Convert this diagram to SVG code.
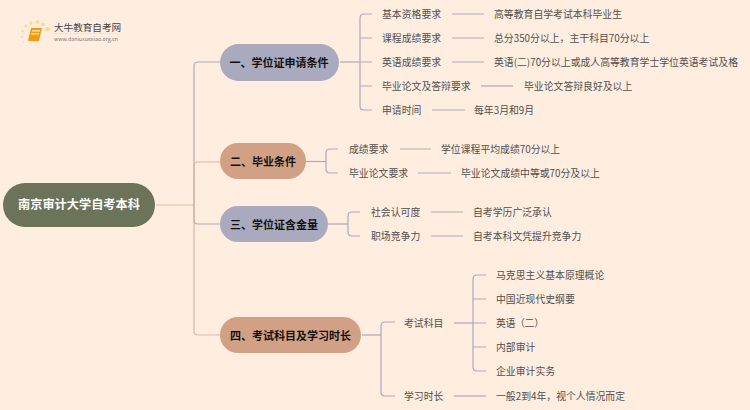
<svg xmlns="http://www.w3.org/2000/svg" width="750" height="410" viewBox="0 0 750 410">
<style>
text{font-family:"Noto Sans CJK SC","Liberation Sans",sans-serif}
.t{font-size:9.850px;fill:#4f4f4f}
.h{font-size:11px;font-weight:700;fill:#111;text-anchor:middle}
.c{fill:none;stroke-width:1.200}
.b{stroke:#a9aabd}
.o{stroke:#dfb5a0}
</style>
<rect width="750" height="410" fill="#ffeee0"/>
<g id="logo">
<path d="M28 41 l3 -13 h11 l-3 13 h-11z" fill="#f39a12"/>
<rect x="32" y="30" width="8" height="1.500" fill="#ffe0a0"/>
<rect x="31" y="33" width="8" height="1.500" fill="#ffe0a0"/>
<g fill="#fbd98a"><circle cx="47.500" cy="29" r="2.300"/><circle cx="43" cy="24.500" r="1.800"/><circle cx="37.500" cy="22" r="1.800"/><circle cx="31" cy="23" r="1.700"/><circle cx="26" cy="26" r="1.400"/><circle cx="22.500" cy="31" r="1.200"/><circle cx="22" cy="37" r="1"/><circle cx="23.500" cy="42" r="0.800"/></g>
<text x="54" y="31" font-size="9.600" fill="#444">大牛教育自考网</text>
<path d="M54 33.500H118" stroke="#ddd" stroke-width="0.600"/>
<text x="54" y="41" font-size="5.300" fill="#777">www.daniuxuexiao.org.cn</text>
</g>
<g id="connectors">
<path class="c b" d="M220 62H198q-4 0 -4 4V205"/>
<path class="c b" d="M194 205V220q0 4 4 4H220"/>
<path class="c o" d="M156 205H194"/>
<path class="c o" d="M194 205V331q0 4 4 4H220"/>
<path class="c o" d="M194 205V166q0 -4 4 -4H220"/>
<path class="c b" d="M340 62H360"/>
<path class="c b" d="M372 14H364q-4 0 -4 4V106q0 4 4 4H372"/>
<path class="c b" d="M360 38H372M360 62H372M360 86H372"/>
<path class="c b" d="M452 14H484M452 38H484M452 62H484"/>
<path class="c b" d="M481 86H513"/>
<path class="c b" d="M432 110H465"/>
<path class="c b" d="M306 161.500H326"/>
<path class="c b" d="M338 149H330q-4 0 -4 4V169q0 4 4 4H338"/>
<path class="c b" d="M400 149H431M418 173H451"/>
<path class="c b" d="M328 224H348"/>
<path class="c b" d="M360 212H352q-4 0 -4 4V232q0 4 4 4H360"/>
<path class="c b" d="M431 212H463M431 236H463"/>
<path class="c b" d="M362 335H381"/>
<path class="c b" d="M395 322H385q-4 0 -4 4V392q0 4 4 4H395"/>
<path class="c b" d="M454 323H473"/>
<path class="c b" d="M486 275H477q-4 0 -4 4V367q0 4 4 4H486"/>
<path class="c b" d="M473 299H486M473 323H486M473 347H486"/>
<path class="c b" d="M454 396H486"/>
</g>
<g id="root"><rect x="3" y="183" width="152" height="44" rx="22" fill="#6b7359"/><text x="79" y="209" font-size="12.200" font-weight="700" fill="#fff" text-anchor="middle">南京审计大学自考本科</text></g>
<g id="n1"><rect x="220" y="44" width="119" height="37" rx="18.500" fill="#a9aabd"/><text class="h" x="279" y="66.500">一、学位证申请条件</text></g>
<g id="n2"><rect x="220" y="143" width="86" height="36" rx="18" fill="#d2a185"/><text class="h" x="263" y="165.500">二、毕业条件</text></g>
<g id="n3"><rect x="220" y="206" width="108" height="36" rx="18" fill="#a9aabd"/><text class="h" x="274" y="228.500">三、学位证含金量</text></g>
<g id="n4"><rect x="220" y="317" width="141" height="36" rx="18" fill="#d2a185"/><text class="h" x="290.500" y="339.500">四、考试科目及学习时长</text></g>
<g id="labels">
<text class="t" x="382" y="18">基本资格要求</text>
<text class="t" x="382" y="42">课程成绩要求</text>
<text class="t" x="382" y="66">英语成绩要求</text>
<text class="t" x="382" y="90">毕业论文及答辩要求</text>
<text class="t" x="382" y="114">申请时间</text>
<text class="t" x="494" y="18">高等教育自学考试本科毕业生</text>
<text class="t" x="494" y="42">总分350分以上，主干科目70分以上</text>
<text class="t" x="494" y="66">英语(二)70分以上或成人高等教育学士学位英语考试及格</text>
<text class="t" x="524" y="90">毕业论文答辩良好及以上</text>
<text class="t" x="474" y="114">每年3月和9月</text>
<text class="t" x="349" y="153">成绩要求</text>
<text class="t" x="349" y="177">毕业论文要求</text>
<text class="t" x="441" y="153">学位课程平均成绩70分以上</text>
<text class="t" x="461" y="177">毕业论文成绩中等或70分及以上</text>
<text class="t" x="371" y="216">社会认可度</text>
<text class="t" x="371" y="240">职场竞争力</text>
<text class="t" x="473" y="216">自考学历广泛承认</text>
<text class="t" x="473" y="240">自考本科文凭提升竞争力</text>
<text class="t" x="404" y="327">考试科目</text>
<text class="t" x="404" y="400">学习时长</text>
<text class="t" x="496" y="279">马克思主义基本原理概论</text>
<text class="t" x="496" y="303">中国近现代史纲要</text>
<text class="t" x="496" y="327" textLength="48">英语（二）</text>
<text class="t" x="496" y="351">内部审计</text>
<text class="t" x="496" y="375">企业审计实务</text>
<text class="t" x="496" y="400">一般2到4年，视个人情况而定</text>
</g>
</svg>
